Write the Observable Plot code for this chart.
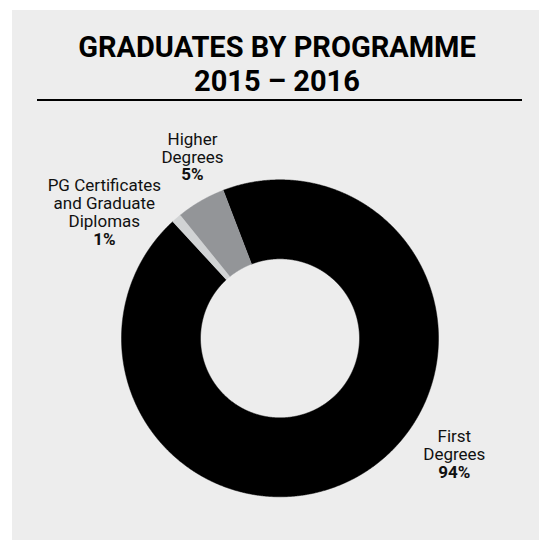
<!DOCTYPE html>
<html>
<head>
<meta charset="utf-8">
<script src="https://cdn.jsdelivr.net/npm/d3@7"></script>
<script src="https://cdn.jsdelivr.net/npm/@observablehq/plot@0.6"></script>
<style>
  html, body { margin: 0; padding: 0; background: #ffffff; }
  #card { position: absolute; left: 12px; top: 10px; width: 527px; height: 530px; background: #ededed; overflow: hidden; }
  #title { position: absolute; left: 0; top: 20px; width: 530px; text-align: center;
           font-family: Roboto, sans-serif; font-weight: 700; font-size: 29px; line-height: 34px; color: #000; }
  #rule { position: absolute; left: 25px; top: 89px; width: 485px; height: 2px; background: #000; }
  #chart { position: absolute; left: 0; top: 95px; }
</style>
</head>
<body>
<div id="card">
  <div id="title">GRADUATES BY PROGRAMME<br>2015 – 2016</div>
  <div id="rule"></div>
  <div id="chart"></div>
</div>
<script>
// ---- data ----
const categories = ["First Degrees", "PG Certificates and Graduate Diplomas", "Higher Degrees"];
const labelText = ["First\nDegrees", "PG Certificates\nand Graduate\nDiplomas", "Higher\nDegrees"];
const shares = [94, 1, 5];
const sliceColors = ["#000000", "#d1d3d4", "#939598"];

// ---- layout (pixels) ----
const W = 527, H = 435;
const cx = 267.5, cy = 232.8;        // donut centre inside the svg
const R = 158.5, r0 = 79.5;          // outer / inner radius
const startDeg = -21;
const labelNudge = [[90.8, -43.5], [-72.1, -39.5], [-8.25, -68.8]]; // px offsets from slice mid on outer edge

const pie = d3.pie().sort(null).value(d => d)
  .startAngle(startDeg * Math.PI / 180)
  .endAngle((360 + startDeg) * Math.PI / 180)(shares);

const ring = [];
pie.forEach((p, i) => {
  const n = Math.max(4, Math.ceil((p.endAngle - p.startAngle) / 0.005));
  for (let k = 0; k <= n; k++) {
    const a = p.startAngle + (p.endAngle - p.startAngle) * k / n;
    ring.push({cat: categories[i], x: R * Math.sin(a), y: R * Math.cos(a)});
  }
  for (let k = n; k >= 0; k--) {
    const a = p.startAngle + (p.endAngle - p.startAngle) * k / n;
    ring.push({cat: categories[i], x: r0 * Math.sin(a), y: r0 * Math.cos(a)});
  }
});

const labels = categories.map((c, i) => {
  const a = (pie[i].startAngle + pie[i].endAngle) / 2;
  return {
    cat: c,
    name: labelText[i],
    pct: "\n".repeat(labelText[i].split("\n").length) + shares[i] + "%",
    x: R * Math.sin(a) + labelNudge[i][0],
    y: R * Math.cos(a) - labelNudge[i][1]
  };
});

const chart = Plot.plot({
  width: W,
  height: H,
  margin: 0,
  style: {background: "transparent", fontFamily: "Roboto, sans-serif"},
  x: {domain: [-cx, W - cx], axis: null},
  y: {domain: [-(H - cy), cy], axis: null},
  color: {domain: categories, range: sliceColors},
  marks: [
    Plot.line(ring, {x: "x", y: "y", z: "cat", fill: "cat", stroke: "cat", strokeWidth: 0.5, curve: "linear"}),
    Plot.text(labels, {x: "x", y: "y", text: "name", lineAnchor: "top", lineHeight: 1.047,
      fontSize: 17, fill: "#111", textAnchor: "middle"}),
    Plot.text(labels, {x: "x", y: "y", text: "pct", lineAnchor: "top", lineHeight: 1.047,
      fontSize: 17, fontWeight: 700, fill: "#111", textAnchor: "middle"})
  ]
});
document.getElementById("chart").appendChild(chart);
</script>
</body>
</html>
